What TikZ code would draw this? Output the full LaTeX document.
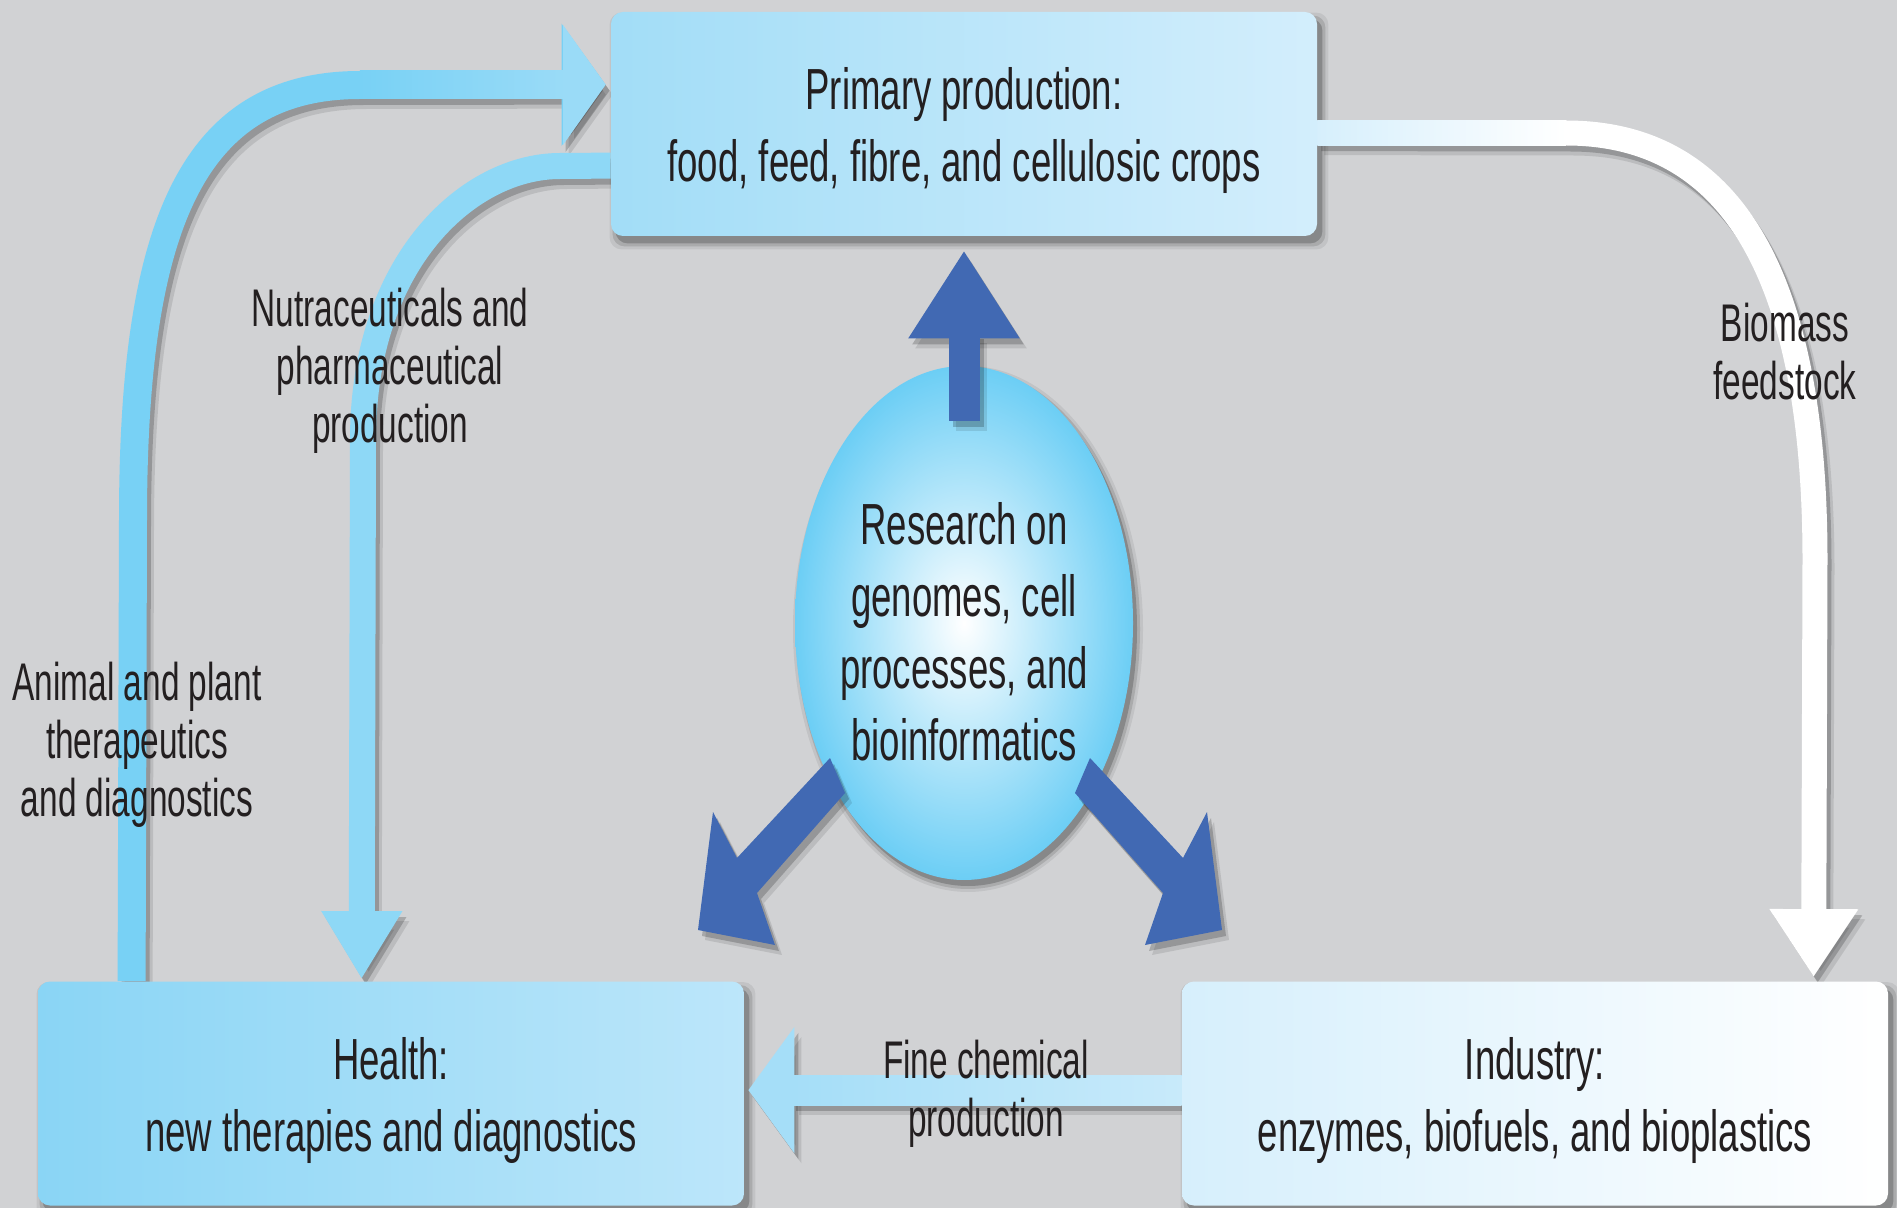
\documentclass[tikz,border=0pt]{standalone}
\usepackage{fontspec}
\setmainfont{Liberation Sans}[FakeStretch=0.63]
\usetikzlibrary{arrows.meta,shapes.geometric,calc}
\pgfdeclarelayer{bgzero}
\pgfdeclarelayer{background}
\pgfsetlayers{bgzero,background,main}
\definecolor{bggray}{HTML}{D1D2D4}
\definecolor{ink}{HTML}{231F20}
\definecolor{primL}{HTML}{A2DDF7}
\definecolor{primR}{HTML}{D3EEFC}
\definecolor{healL}{HTML}{8AD5F5}
\definecolor{healR}{HTML}{BCE6FA}
\definecolor{indL}{HTML}{D6EFFC}
\definecolor{ellout}{HTML}{6CCEF5}
\definecolor{dkblue}{HTML}{4169B3}
\definecolor{arrA}{HTML}{78D1F5}
\definecolor{arrAb}{HTML}{9ADBF7}
\definecolor{arrB}{HTML}{8ED8F6}
\definecolor{arrDa}{HTML}{A5DEF8}
\definecolor{arrDb}{HTML}{C8EAFA}
\newcommand\fatarrow[2]{\draw[#1,shdb] #2; \draw[#1,shda] #2; \draw[#1] #2;}
\newcommand\boxshadow[1]{%
  \foreach \e/\o in {0/0.20,3/0.12,6/0.07}{%
    \fill[black, opacity=\o, rounded corners=6pt]
      ($(#1.north west)+(5-\e,7-\e)$) rectangle ($(#1.south east)+(5+\e,7+\e)$);}}
\newcommand\topstrut[1]{\rule{0pt}{#1}}
\newcommand\dkpoly{($(ell.center)+(\s*130-4,135)$) -- ($(ell.center)+(\s*115-4,170)$)
     -- ($(ell.center)+(\s*203-4,270)$) -- ($(ell.center)+(\s*185-4,322)$)
     -- ($(ell.center)+(\s*262-4,307)$) -- ($(ell.center)+(\s*247-4,189)$)
     -- ($(ell.center)+(\s*223-4,235)$) -- cycle}
\begin{document}
\begin{tikzpicture}[x=0.5pt,y=-0.5pt,
  txt/.style={text=ink, align=center, font=\fontsize{29pt}{36pt}\selectfont},
  lbl/.style={text=ink, align=center, font=\fontsize{26.5pt}{29pt}\selectfont, inner sep=0pt},
  boxst/.style={rounded corners=6pt, minimum width=353pt, minimum height=112pt, inner sep=0pt, txt},
  shda/.style={draw=black, opacity=0.20, transform canvas={xshift=2pt,yshift=-3pt}},
  shdb/.style={draw=black, opacity=0.10, transform canvas={xshift=3.5pt,yshift=-5pt}},
  polyshda/.style={fill=black, opacity=0.20, transform canvas={xshift=2pt,yshift=-3pt}},
  polyshdb/.style={fill=black, opacity=0.10, transform canvas={xshift=3.5pt,yshift=-5pt}},
  dkarrow/.style={fill=dkblue},
]
\useasboundingbox (0,0) rectangle (1897,1208);
\begin{pgfonlayer}{bgzero}
  \fill[bggray] (0,0) rectangle (1897,1208);
\end{pgfonlayer}

% boxes
\node[boxst, left color=primL, right color=primR] (prim) at (964,124)
  {\topstrut{28pt}Primary production:\\food, feed, fibre, and cellulosic crops};
\node[boxst, left color=healL, right color=healR] (health) at (391,1093.5)
  {\topstrut{28pt}Health:\\new therapies and diagnostics};
\node[boxst, left color=indL, right color=white] (ind) at (1535,1093.5)
  {\topstrut{28pt}Industry:\\enzymes, biofuels, and bioplastics};

% anchor coordinates
\coordinate (a0) at ($(health.north west)+(94,0)$);
\coordinate (a1) at ($(prim.north west)+(-5,73)$);
\coordinate (b0) at ($(prim.north west)+(0,154)$);
\coordinate (b1) at ($(health.north west)+(324,-2)$);
\coordinate (c0) at ($(prim.north east)+(0,121)$);
\coordinate (c1) at ($(ind.north west)+(632,-4)$);
\coordinate (d0) at ($(ind.north west)+(0,109)$);
\coordinate (d1) at ($(health.north east)+(4,109)$);

\begin{pgfonlayer}{background}
  \boxshadow{prim}
  \boxshadow{health}
  \boxshadow{ind}
  \foreach \e/\o in {0/0.20,3/0.12,6/0.07}{%
    \fill[black, opacity=\o] (968,629) ellipse [x radius=84.5pt+\e*0.5pt, y radius=128.5pt+\e*0.5pt];}
  % A: health -> primary (outer)
  \fatarrow{draw=arrA, line width=14pt, -{Triangle[width=60pt,length=22pt]}}
    {(a0) -- (133,520) .. controls (133,230) and (190,85) .. (360,85) -- (a1)}
  \shade[left color=arrA, right color=arrAb] (360,71) rectangle (565,99);
  \fill[arrAb] (563,25) -- (a1) -- (563,145) -- cycle;
  % B: primary -> health (inner)
  \fatarrow{draw=arrB, line width=13pt, -{Triangle[width=38pt,length=34pt]}}
    {(b0) -- (560,166) .. controls (470,166) and (363,260) .. (363,440) -- (b1)}
  % C: primary -> industry
  \fatarrow{draw=white, line width=12.5pt, -{Triangle[width=42pt,length=34pt]}}
    {(c0) -- (1566,133) .. controls (1740,133) and (1815,290) .. (1815,560) -- (c1)}
  \shade[left color=indL, right color=white] ($(c0)+(0,-12.5)$) rectangle (1566,145.5);
  % D: industry -> health
  \fatarrow{draw=arrDa, line width=15pt, -{Triangle[width=62pt,length=23pt]}}
    {(d0) -- (d1)}
  \shade[left color=arrDa, right color=arrDb] ($(d1)+(44,-15)$) rectangle ($(d0)+(0,15)$);
\end{pgfonlayer}

% ellipse
\node[ellipse, minimum width=169pt, minimum height=257pt, inner sep=0pt,
      inner color=white, outer color=ellout] (ell) at (964,623) {};
\node[txt, inner sep=0pt] (elltext) at ($(ell.center)+(0,9)$)
  {Research on\\genomes, cell\\processes, and\\bioinformatics};

% dark blue arrows from research
\coordinate (u0) at ($(ell.north)+(0,55)$);
\coordinate (u1) at ($(prim.south)+(0,14)$);
\fatarrow{draw=dkblue, line width=15.5pt, -{Triangle[width=52.5pt,length=44pt]}}{(u0) -- (u1)}
\foreach \s in {-1,1}{%
  \path[polyshdb] \dkpoly;
  \path[polyshda] \dkpoly;
  \path[dkarrow] \dkpoly;
}

% labels
\node[lbl] (nutr) at (390,371) {Nutraceuticals and\\pharmaceutical\\production};
\node[lbl] (biom) at (1785,352) {Biomass\\feedstock};
\node[lbl] (anim) at (137,745) {Animal and plant\\therapeutics\\and diagnostics};
\node[lbl] (fine) at (986,1094) {Fine chemical\\production};
\end{tikzpicture}
\end{document}
